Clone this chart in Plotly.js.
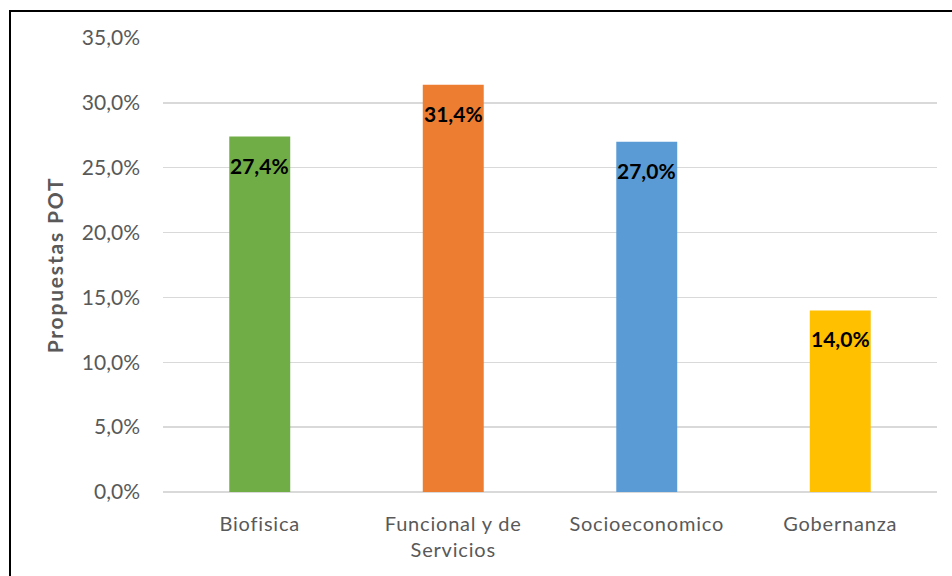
<!DOCTYPE html>
<html>
<head>
<meta charset="utf-8">
<script src="https://cdn.plot.ly/plotly-3.0.1.min.js"></script>
<style>
body { margin:0; padding:0; background:#fff; }
#wrap { position:relative; width:952px; height:576px; overflow:hidden; }
#chart { position:absolute; left:0; top:0; width:952px; height:576px; }
#frame { position:absolute; left:9px; top:10px; width:960px; height:600px; border:2px solid #000; box-sizing:border-box; pointer-events:none; }
#chart .xtick text { letter-spacing: 0.8px; }
#chart .ytitle { letter-spacing: 1.8px; }
</style>
</head>
<body>
<div id="wrap">
<div id="chart"></div>
<div id="frame"></div>
</div>
<script>
const categories = ["Biofisica", "Funcional y de<br>Servicios", "Socioeconomico", "Gobernanza"];
const values = [0.274, 0.314, 0.270, 0.140];
const labels = ["27,4%", "31,4%", "27,0%", "14,0%"];
const colors = ["#70AD47", "#ED7D31", "#5B9BD5", "#FFC000"];
const yTicks = [0, 0.05, 0.10, 0.15, 0.20, 0.25, 0.30, 0.35];

const font = "Lato, 'Open Sans', sans-serif";

const trace = {
  type: "bar",
  x: categories,
  y: values,
  marker: { color: colors },
  hoverinfo: "none"
};

const annotations = categories.map((c, i) => ({
  x: c, y: values[i], xref: "x", yref: "y",
  text: labels[i], showarrow: false,
  yanchor: "top", yshift: -14,
  font: { family: font, size: 21, color: "#000", weight: "bold" }
}));

const layout = {
  width: 952, height: 576,
  margin: { l: 163, r: 15, t: 38, b: 84 },
  paper_bgcolor: "#fff", plot_bgcolor: "#fff",
  separators: ",.",
  bargap: 0.685,
  showlegend: false,
  font: { family: font, color: "#595959", size: 20 },
  xaxis: {
    type: "category",
    tickfont: { family: font, size: 20, color: "#595959" },
    showgrid: false, zeroline: false, showline: false,
    ticks: "", ticklabelstandoff: 18
  },
  yaxis: {
    range: [0, 0.35],
    tickvals: yTicks,
    tickformat: ".1%",
    tickfont: { family: font, size: 21, color: "#595959" },
    gridcolor: "#d9d9d9", gridwidth: 1.5,
    zeroline: true, zerolinecolor: "#d9d9d9", zerolinewidth: 1.5,
    showline: false, ticks: "", ticklen: 0,
    ticklabelstandoff: 22,
    title: { text: "Propuestas POT", standoff: 12,
      font: { family: font, size: 21, color: "#595959", weight: "bold" } }
  },
  annotations: annotations
};

Plotly.newPlot("chart", [trace], layout, { displayModeBar: false, staticPlot: true });
</script>
</body>
</html>
